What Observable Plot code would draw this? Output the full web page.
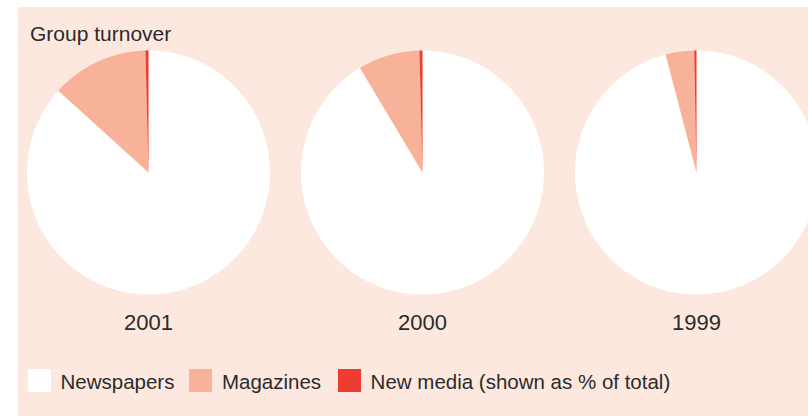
<!DOCTYPE html>
<html>
<head>
<meta charset="utf-8">
<script src="https://cdn.jsdelivr.net/npm/d3@7"></script>
<script src="https://cdn.jsdelivr.net/npm/@observablehq/plot@0.6"></script>
<style>
  html, body { margin: 0; padding: 0; background: #ffffff; overflow: hidden; width: 808px; height: 416px; }
  #panel { position: absolute; left: 18px; top: 7px; width: 790px; height: 409px; background: #fde8df; overflow: hidden;
           font-family: "Liberation Sans", Arial, sans-serif; color: #2b2b2b; }
  #title { padding: 15px 0 0 12px; font-size: 21px; line-height: 24px; height: 24px; }
  #legend { position: absolute; left: 0; top: 362px; height: 23px; display: flex; align-items: center; }
  .sw { width: 23px; height: 23px; flex: none; }
  .lab { font-size: 20.5px; line-height: 23px; position: relative; top: 1px; white-space: nowrap; }
</style>
</head>
<body>
<div id="panel">
  <div id="title">Group turnover</div>
  <div id="chart"></div>
  <div id="legend"></div>
</div>
<script>
// ---- data ----
const years = ["2001", "2000", "1999"];
const categories = ["Newspapers", "Magazines", "New media (shown as % of total)"];
const newspapers = [86.7, 91.4, 95.9];
const magazines  = [12.9, 8.2, 3.8];
const newMedia   = [0.4, 0.4, 0.3];
const colors = ["#ffffff", "#f9b29a", "#ef3c33"];

// ---- build wedge outlines from the values ----
const series = [newspapers, magazines, newMedia];
const wedges = [];
years.forEach((year, yi) => {
  const vals = series.map(s => s[yi]);
  const arcs = d3.pie().sort(null).startAngle(0).endAngle(2 * Math.PI)(vals);
  arcs.forEach((a, ci) => {
    const key = year + "-" + ci;
    const cat = categories[ci];
    wedges.push({year, cat, key, x: 0, y: 0});
    const n = Math.max(2, Math.ceil((a.endAngle - a.startAngle) / (Math.PI / 360)));
    for (let k = 0; k <= n; k++) {
      const t = a.startAngle + (a.endAngle - a.startAngle) * k / n;
      wedges.push({year, cat, key, x: Math.sin(t), y: Math.cos(t)});
    }
    wedges.push({year, cat, key, x: 0, y: 0});
  });
});

const chart = Plot.plot({
  width: 790,
  height: 300,
  marginTop: 4,
  marginBottom: 52,
  marginLeft: 19,
  marginRight: 0,
  style: {fontFamily: "Liberation Sans, Arial, sans-serif", background: "transparent", color: "#2b2b2b", overflow: "hidden"},
  fx: {domain: years, paddingInner: 0.4, paddingOuter: 0.10437, axis: null},
  x: {domain: [-0.675, 0.675], axis: null},
  y: {domain: [-1, 1], axis: null},
  color: {domain: categories, range: colors},
  marks: [
    Plot.line(wedges, {fx: "year", x: "x", y: "y", z: "key", fill: "cat", stroke: "none", curve: "linear"}),
    Plot.text(years, {fx: d => d, text: d => d, frameAnchor: "bottom", dy: 35, fontSize: 22, fill: "#2b2b2b"})
  ]
});
document.getElementById("chart").appendChild(chart);

// ---- legend ----
const legend = document.getElementById("legend");
const gaps = [10, 15, 17];
categories.forEach((c, i) => {
  const sw = document.createElement("div");
  sw.className = "sw";
  sw.style.background = colors[i];
  sw.style.marginLeft = gaps[i] + "px";
  const lab = document.createElement("div");
  lab.className = "lab";
  lab.style.marginLeft = "9.5px";
  lab.textContent = c;
  legend.appendChild(sw);
  legend.appendChild(lab);
});
</script>
</body>
</html>
